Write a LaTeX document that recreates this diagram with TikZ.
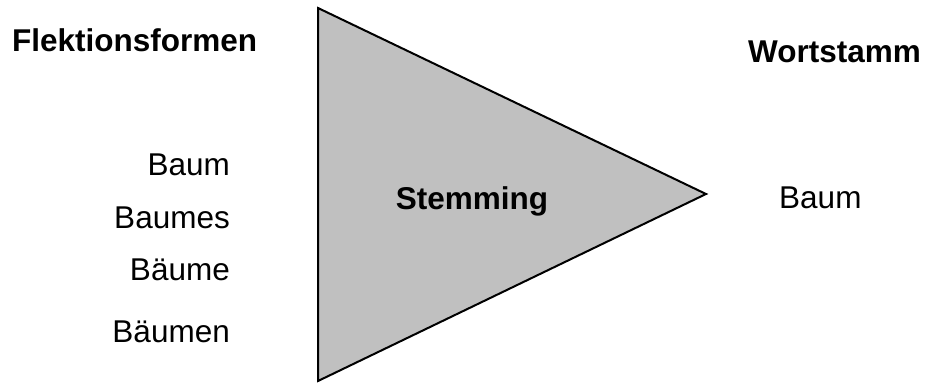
\documentclass[tikz,border=0pt]{standalone}
\usepackage{fontspec}
\setmainfont{Liberation Sans}
\usetikzlibrary{positioning}
\definecolor{stemgray}{HTML}{C0C0C0}

\begin{document}
\begin{tikzpicture}[x=1pt, y=-1pt,
  font=\fontsize{31.5}{38}\selectfont,
  head/.style={font=\fontsize{31.5}{38}\selectfont\bfseries, inner sep=0pt},
  word/.style={anchor=base east, inner sep=0pt},
  funnel/.style={draw=black, line width=2pt, fill=stemgray, line join=miter}]
  \useasboundingbox (0,0) rectangle (925,383);
  % the stemming triangle
  \draw[funnel] (318,8) -- (706,194) -- (318,381) -- cycle;
  \node[head, anchor=base west] (flex) at (12,51) {Flektionsformen};
  \node[head, anchor=base west] (stamm) at (748,62) {Wortstamm};
  \node[head, anchor=base] (stem) at (472,209) {Stemming};
  \node[word] (w1) at (230,175) {Baum};
  \node[word] (w2) at (230,228) {Baumes};
  \node[word] (w3) at (230,280) {Bäume};
  \node[word] (w4) at (230,342) {Bäumen};
  \node[anchor=base west, inner sep=0pt] (root) at (779,208) {Baum};
\end{tikzpicture}
\end{document}
